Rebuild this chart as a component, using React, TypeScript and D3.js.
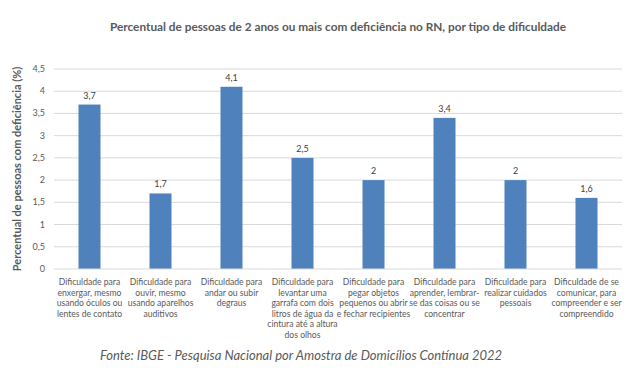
import React from "react";
import * as d3 from "d3";

const categories: string[][] = [
  ["Dificuldade para", "enxergar, mesmo", "usando óculos ou", "lentes de contato"],
  ["Dificuldade para", "ouvir, mesmo", "usando aparelhos", "auditivos"],
  ["Dificuldade para", "andar ou subir", "degraus"],
  ["Dificuldade para", "levantar uma", "garrafa com dois", "litros de água da", "cintura até a altura", "dos olhos"],
  ["Dificuldade para", "pegar objetos", "pequenos ou abrir", "e fechar recipientes"],
  ["Dificuldade para", "aprender, lembrar-", "se das coisas ou se", "concentrar"],
  ["Dificuldade para", "realizar cuidados", "pessoais"],
  ["Dificuldade de se", "comunicar, para", "compreender e ser", "compreendido"],
];
const values: number[] = [3.7, 1.7, 4.1, 2.5, 2, 3.4, 2, 1.6];
const yTicks: number[] = [0, 0.5, 1, 1.5, 2, 2.5, 3, 3.5, 4, 4.5];

const title = "Percentual de pessoas de 2 anos ou mais com deficiência no RN, por tipo de dificuldade";
const yTitle = "Percentual de pessoas com deficiência (%)";
const source = "Fonte: IBGE - Pesquisa Nacional por Amostra de Domicílios Contínua 2022";

const fmt = (v: number) => String(v).replace(".", ",");

export default function App() {
  const W = 642, H = 378;
  const left = 54, right = 622, top = 69, bottom = 269;
  const x = d3.scaleBand<number>().domain(values.map((_, i) => i)).range([left, right]).paddingInner(0.69).paddingOuter(0.345);
  const y = d3.scaleLinear().domain([0, 4.5]).range([bottom, top]);
  const font = "Lato, 'Open Sans', sans-serif";
  const grey = "#595959";
  return (
    <svg width={W} height={H} style={{ position: "absolute", left: 0, top: 0, background: "#fff" }} fontFamily={font}>
      <text x={338} y={31} textAnchor="middle" fontSize={11.8} fontWeight="bold" fill={grey}>{title}</text>
      {yTicks.map((t) => (
        <g key={t}>
          {t > 0 && <line x1={left} x2={right} y1={y(t)} y2={y(t)} stroke="#d9d9d9" strokeWidth={1} />}
          <text x={45} y={y(t) + 3} textAnchor="end" fontSize={9} fill={grey}>{fmt(t)}</text>
        </g>
      ))}
      {values.map((v, i) => (
        <g key={i}>
          <rect x={x(i)} y={y(v)} width={x.bandwidth()} height={bottom - y(v)} fill="#4f81bd" />
          <text x={(x(i) as number) + x.bandwidth() / 2} y={y(v) - 6} textAnchor="middle" fontSize={9} fill="#404040">{fmt(v)}</text>
          {categories[i].map((line, j) => (
            <text key={j} x={(x(i) as number) + x.bandwidth() / 2} y={285 + j * 10.6} textAnchor="middle" fontSize={8.6} fill={grey}>{line}</text>
          ))}
        </g>
      ))}
      <line x1={left} x2={right} y1={bottom} y2={bottom} stroke="#d9d9d9" strokeWidth={1} />
      <text transform={`translate(21,${(top + bottom) / 2}) rotate(-90)`} textAnchor="middle" fontSize={11} fontWeight="bold" fill={grey}>{yTitle}</text>
      <text x={100} y={360} fontSize={13} fontStyle="italic" fill={grey}>{source}</text>
    </svg>
  );
}
